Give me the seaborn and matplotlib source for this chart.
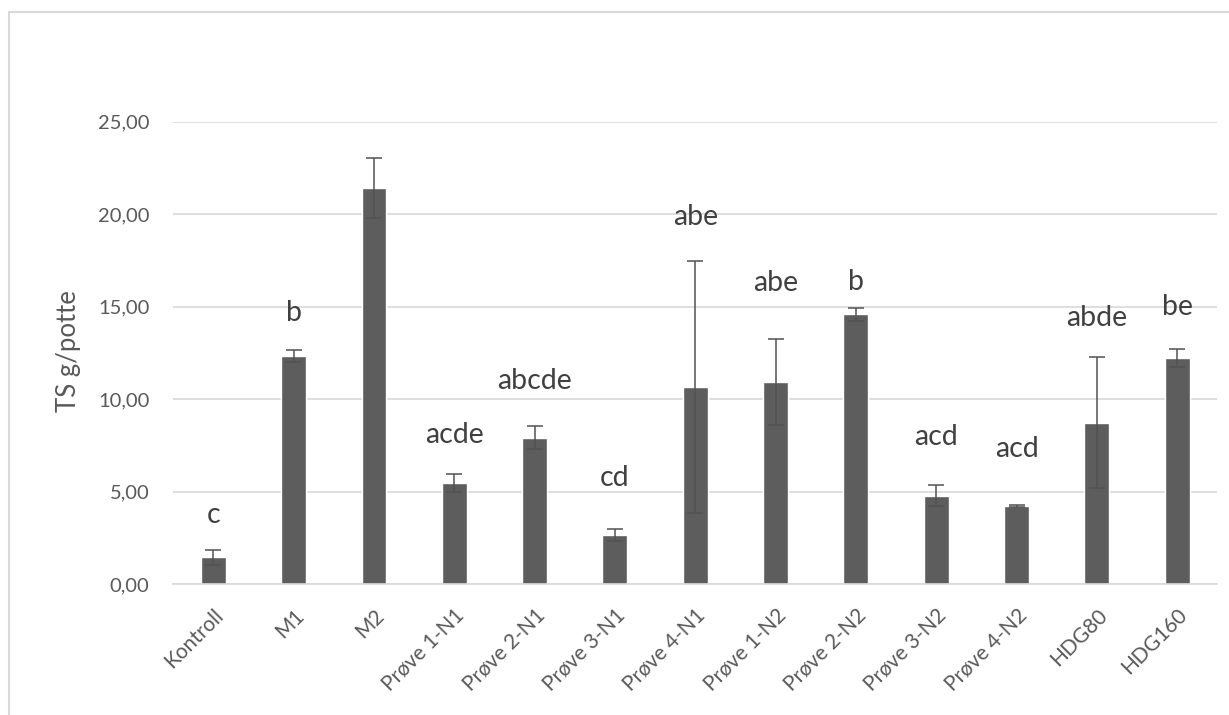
import matplotlib
matplotlib.use("Agg")
import matplotlib.pyplot as plt
from matplotlib.patches import Rectangle
import seaborn as sns
import pandas as pd

# Dry matter per pot for each treatment
treatments = ["Kontroll", "M1", "M2", "Prøve 1-N1", "Prøve 2-N1", "Prøve 3-N1",
              "Prøve 4-N1", "Prøve 1-N2", "Prøve 2-N2", "Prøve 3-N2", "Prøve 4-N2",
              "HDG80", "HDG160"]
mean_ts = [1.46, 12.34, 21.40, 5.49, 7.92, 2.66, 10.65, 10.92, 14.59, 4.79, 4.23, 8.74, 12.23]
std_err = [0.39, 0.32, 1.62, 0.49, 0.63, 0.31, 6.80, 2.32, 0.35, 0.56, 0.06, 3.56, 0.50]

# Significance groups and the height at which each is written
groups = ["c", "b", "", "acde", "abcde", "cd", "abe", "abe", "b", "acd", "acd", "abde", "be"]
group_y = [3.75, 14.66, 0, 8.07, 11.0, 5.75, 19.87, 16.3, 16.36, 7.98, 7.3, 14.38, 15.0]

y_ticks = [0, 5, 10, 15, 20, 25]

df = pd.DataFrame({"Behandling": treatments, "TS": mean_ts})

sns.set_theme(style="white")
plt.rcParams["font.family"] = ["Lato", "DejaVu Sans"]

fig = plt.figure(figsize=(12.29, 7.15), dpi=100)
ax = fig.add_axes([173.2 / 1229, 1 - 584.3 / 715, (1217.3 - 173.2) / 1229, (584.3 - 121.7) / 715])

bar_color = "#5d5d5d"
sns.barplot(data=df, x="Behandling", y="TS", color=bar_color, saturation=1,
            width=0.31, errorbar=None, ax=ax, zorder=2)

ax.errorbar(range(len(treatments)), mean_ts, yerr=std_err, fmt="none",
            ecolor="#525252", elinewidth=1.1, capsize=6, capthick=1.1, zorder=3)

for i, (g, gy) in enumerate(zip(groups, group_y)):
    if g:
        ax.text(i, gy, g, ha="center", va="center", fontsize=20.5, color="#404040")

ax.set_ylim(0, 25)
ax.set_xlim(-0.5, len(treatments) - 0.5)
ax.set_yticks(y_ticks)
ax.set_yticklabels([f"{v:.2f}".replace(".", ",") for v in y_ticks])
ax.yaxis.grid(True, color="#d9d9d9", linewidth=1.2, zorder=0)
ax.set_axisbelow(True)
for side in ["top", "right", "left"]:
    ax.spines[side].set_visible(False)
ax.spines["bottom"].set_color("#d9d9d9")
ax.spines["bottom"].set_linewidth(1.2)

ax.tick_params(axis="y", length=0, pad=17, labelsize=14.5, labelcolor="#595959")
ax.tick_params(axis="x", length=0, pad=15, labelsize=15, labelcolor="#595959")
plt.setp(ax.get_xticklabels(), rotation=45, ha="right", rotation_mode="anchor")

ax.set_xlabel("")
ax.set_ylabel("TS g/potte", fontsize=18.5, color="#595959", labelpad=12)
ax.yaxis.label.set_position((0, 0.505))

# Chart area frame
fig.patches.append(Rectangle((8.5 / 1229, -0.1), 1.2, 1.1 - 11.5 / 715,
                             transform=fig.transFigure, fill=False,
                             edgecolor="#d9d9d9", linewidth=1.5))

fig.savefig("out.png", dpi=100, facecolor="white")
